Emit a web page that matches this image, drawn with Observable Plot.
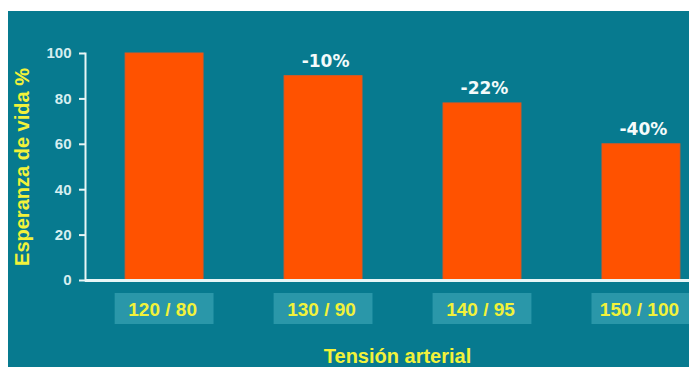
<!DOCTYPE html>
<html>
<head>
<meta charset="utf-8">
<script src="https://cdn.jsdelivr.net/npm/d3@7"></script>
<script src="https://cdn.jsdelivr.net/npm/@observablehq/plot@0.6"></script>
<style>
  html, body { margin: 0; padding: 0; background: #ffffff; }
  #chart { position: absolute; left: 8px; top: 11px; width: 681px; height: 356px; background: #077a8f; }
  #chart svg { display: block; }
</style>
</head>
<body>
<div id="chart"></div>
<script>
const categories = ["120 / 80", "130 / 90", "140 / 95", "150 / 100"];
const values = [100, 90, 78, 60];
const changeLabels = ["", "-10%", "-22%", "-40%"];
const yTicks = [0, 20, 40, 60, 80, 100];
const yLabel = "Esperanza de vida %";
const xLabel = "Tensión arterial";

const rows = categories.map((c, i) => ({cat: c, value: values[i], change: changeLabels[i]}));

const teal = "#077a8f";
const orange = "#ff5200";
const yellow = "#f2f23a";
const boxFill = "#2a97a9";
const white = "#e8f6f6";

const plot = Plot.plot({
  width: 681,
  height: 356,
  marginLeft: 77,
  marginRight: 0,
  marginTop: 42,
  marginBottom: 87,
  style: {background: teal, fontFamily: "Liberation Sans, Arial, sans-serif", fontSize: "15px", fontWeight: "bold", overflow: "visible"},
  x: {domain: categories, paddingInner: 0.51, paddingOuter: 0.155, align: 0.815, round: false, axis: null},
  y: {domain: [0, 100], axis: null},
  marks: [
    Plot.barY(rows, {x: "cat", y: "value", fill: orange, stroke: "#e8561a", strokeWidth: 1}),
    Plot.barY(rows, {x: "cat", y1: 0, y2: 0, fill: boxFill, insetTop: 13, insetBottom: -44, insetLeft: -10.5, insetRight: -10.5}),
    Plot.text(rows, {x: "cat", y: 0, text: "cat", dy: 29, dx: -2, fill: yellow, fontSize: 19, fontWeight: "bold"}),
    Plot.text(rows, {x: "cat", y: "value", text: "change", dy: -15, dx: 2, fill: "#f4fbfb", fontSize: 17, fontWeight: "bold", fontFamily: "DejaVu Sans, sans-serif", letterSpacing: 1.5}),
    Plot.axisY({ticks: yTicks, tickSize: 6, tickPadding: 8, stroke: white, fill: "#d6eef0", strokeWidth: 2, label: null}),
    Plot.frame({anchor: "left", stroke: white, strokeWidth: 2}),
    Plot.ruleY([0], {stroke: white, strokeWidth: 3}),
    Plot.text([yLabel], {frameAnchor: "left", dx: -63, rotate: -90, textAnchor: "middle", fill: yellow, fontSize: 20, fontWeight: "bold", lineAnchor: "middle"}),
    Plot.text([xLabel], {frameAnchor: "bottom", dx: 10, dy: 82, lineAnchor: "bottom", fill: yellow, fontSize: 20, fontWeight: "bold"})
  ]
});

document.getElementById("chart").appendChild(plot);
</script>
</body>
</html>
